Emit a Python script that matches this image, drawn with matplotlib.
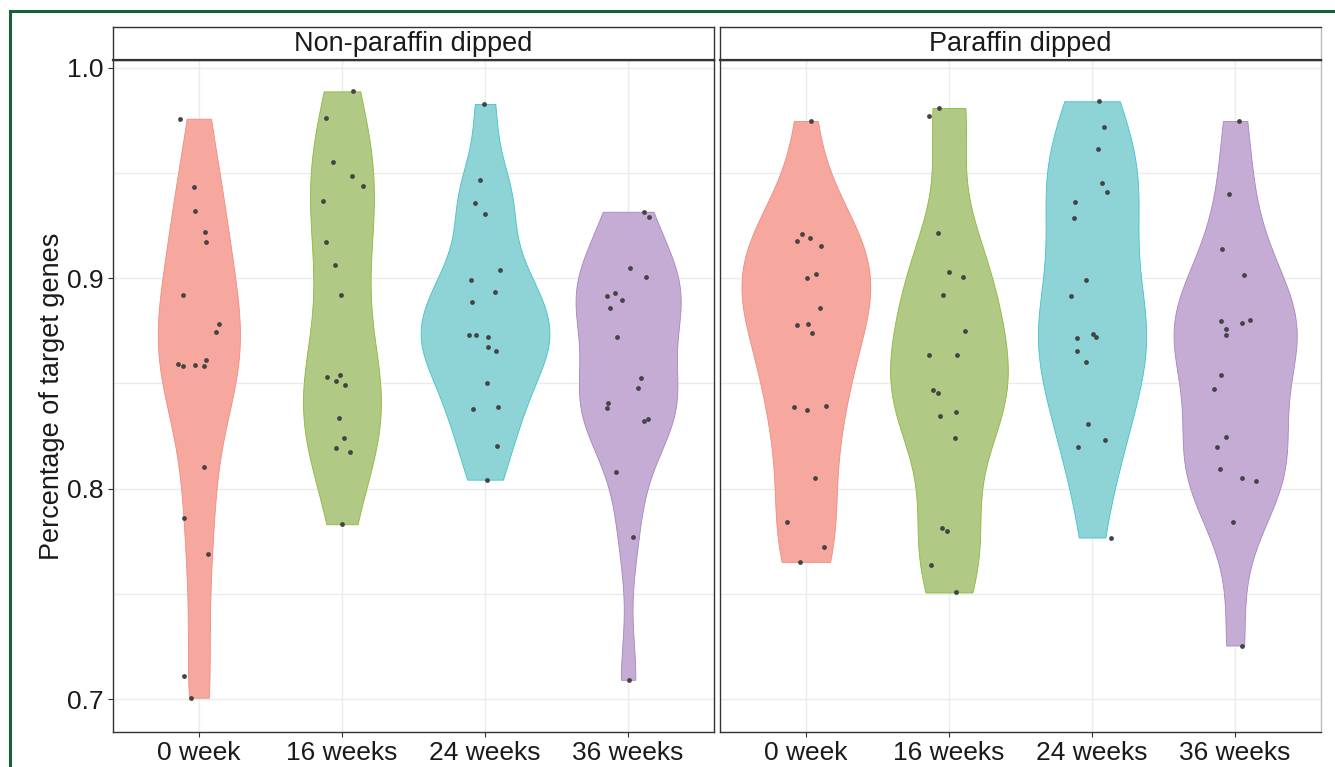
import numpy as np
import matplotlib.pyplot as plt
from matplotlib.patches import Rectangle

plt.rcParams['font.family'] = ['Liberation Sans', 'DejaVu Sans']

panels = ['Non-paraffin dipped', 'Paraffin dipped']
weeks = ['0 week', '16 weeks', '24 weeks', '36 weeks']

fill_colors = ['#F7A89E', '#B0C985', '#8ED4D7', '#C5ACD4']
edge_colors = ['#F28A80', '#8DB83A', '#3FC3C7', '#A784BE']

# non-paraffin dipped, point values and horizontal jitter (category units)
non_0wk_y = [0.9758, 0.9433, 0.9318, 0.9219, 0.9170, 0.8919, 0.8781, 0.8745, 0.8594,
             0.8581, 0.8590, 0.8582, 0.8610, 0.8103, 0.7863, 0.7689, 0.7110, 0.7007]
non_0wk_dx = [-0.135, -0.033, -0.028, 0.042, 0.053, -0.112, 0.140, 0.119, -0.149,
              -0.109, -0.028, 0.037, 0.049, 0.035, -0.107, 0.067, -0.102, -0.056]
non_16wk_y = [0.9888, 0.9760, 0.9554, 0.9487, 0.9438, 0.9367, 0.9174, 0.9064, 0.8919,
              0.8530, 0.8539, 0.8511, 0.8494, 0.8337, 0.8243, 0.8195, 0.8176, 0.7831]
non_16wk_dx = [0.079, -0.112, -0.060, 0.072, 0.144, -0.130, -0.114, -0.047, -0.005,
               -0.105, -0.012, -0.040, 0.023, -0.019, 0.016, -0.044, 0.058, 0.000]
non_24wk_y = [0.9828, 0.9468, 0.9356, 0.9305, 0.9041, 0.8994, 0.8933, 0.8886, 0.8728,
              0.8728, 0.8719, 0.8672, 0.8652, 0.8504, 0.8378, 0.8390, 0.8202, 0.8043]
non_24wk_dx = [-0.007, -0.035, -0.068, 0.000, 0.107, -0.100, 0.068, -0.091, -0.110,
               -0.065, 0.019, 0.023, 0.079, 0.016, -0.086, 0.093, 0.084, 0.016]
non_36wk_y = [0.9316, 0.9290, 0.9051, 0.9004, 0.8918, 0.8929, 0.8895, 0.8860, 0.8721,
              0.8526, 0.8478, 0.8408, 0.8382, 0.8322, 0.8331, 0.8079, 0.7772, 0.7092]
non_36wk_dx = [0.114, 0.147, 0.014, 0.124, -0.147, -0.091, -0.040, -0.124, -0.075,
               0.089, 0.070, -0.142, -0.149, 0.112, 0.140, -0.086, 0.035, 0.005]

# paraffin dipped
par_0wk_y = [0.9747, 0.9212, 0.9176, 0.9189, 0.9155, 0.9022, 0.9000, 0.8858, 0.8779,
             0.8781, 0.8742, 0.8388, 0.8375, 0.8395, 0.8051, 0.7841, 0.7723, 0.7652]
par_0wk_dx = [0.037, -0.028, -0.061, 0.026, 0.107, 0.070, 0.009, 0.098, -0.063,
              0.016, 0.044, -0.084, 0.007, 0.142, 0.065, -0.135, 0.128, -0.044]
par_16wk_y = [0.9809, 0.9772, 0.9213, 0.9030, 0.9007, 0.8921, 0.8747, 0.8633, 0.8633,
              0.8470, 0.8453, 0.8345, 0.8365, 0.8240, 0.7813, 0.7800, 0.7639, 0.7507]
par_16wk_dx = [-0.070, -0.140, -0.079, 0.000, 0.096, -0.044, 0.110, -0.138, 0.056,
               -0.114, -0.075, -0.065, 0.049, 0.044, -0.049, -0.016, -0.128, 0.049]
par_24wk_y = [0.9841, 0.9717, 0.9616, 0.9453, 0.9408, 0.9363, 0.9288, 0.8991, 0.8918,
              0.8717, 0.8736, 0.8719, 0.8652, 0.8603, 0.8309, 0.8200, 0.8232, 0.7768]
par_24wk_dx = [0.047, 0.082, 0.044, 0.068, 0.103, -0.119, -0.126, -0.042, -0.144,
               -0.105, 0.007, 0.028, -0.107, -0.042, -0.026, -0.098, 0.093, 0.131]
par_36wk_y = [0.9747, 0.9401, 0.9137, 0.9017, 0.8798, 0.8760, 0.8728, 0.8785, 0.8803,
              0.8539, 0.8472, 0.8247, 0.8199, 0.8096, 0.8051, 0.8036, 0.7841, 0.7255]
par_36wk_dx = [0.026, -0.040, -0.093, 0.065, -0.100, -0.063, -0.065, 0.049, 0.105,
               -0.100, -0.149, -0.061, -0.126, -0.105, 0.049, 0.149, -0.016, 0.049]

panel_data = [
    [(non_0wk_y, non_0wk_dx), (non_16wk_y, non_16wk_dx),
     (non_24wk_y, non_24wk_dx), (non_36wk_y, non_36wk_dx)],
    [(par_0wk_y, par_0wk_dx), (par_16wk_y, par_16wk_dx),
     (par_24wk_y, par_24wk_dx), (par_36wk_y, par_36wk_dx)],
]


def density(vals, n=512):
    # gaussian kde with R's bw.nrd0, trimmed to data range
    v = np.asarray(vals)
    iqr = np.subtract(*np.percentile(v, [75, 25]))
    bw = 0.9 * min(v.std(ddof=1), iqr / 1.34) * len(v) ** -0.2
    grid = np.linspace(v.min(), v.max(), n)
    d = np.exp(-0.5 * ((grid[:, None] - v[None, :]) / bw) ** 2).sum(1)
    d /= len(v) * bw * np.sqrt(2 * np.pi)
    return grid, d


W, H = 1335, 767
fig = plt.figure(figsize=(W / 100, H / 100), dpi=100)

# green outer frame (cropped on right/bottom)
fig.patches.append(Rectangle((10 / W, -0.1), 2.0, (767 - 11) / H + 0.1,
                             transform=fig.transFigure, fill=False,
                             edgecolor='#1D5E3C', linewidth=2.2))

panel_x = [(113, 714), (720, 1321)]
top, bottom, strip_top = 60, 732, 27
text_col = '#1A1A1A'

for p, (x0, x1) in enumerate(panel_x):
    ax = fig.add_axes([x0 / W, (H - bottom) / H, (x1 - x0) / W, (bottom - top) / H])
    ax.set_xlim(0.4, 4.6)
    ax.set_ylim(0.6844, 1.0037)
    ax.set_yticks([0.7, 0.8, 0.9, 1.0])
    ax.set_yticks([0.75, 0.85, 0.95], minor=True)
    ax.set_xticks(range(1, 5))
    ax.set_xticklabels(weeks)
    ax.grid(True, which='both', color='#EBEBEB', linewidth=1.0)
    ax.set_axisbelow(True)
    ax.tick_params(axis='both', which='major', labelsize=19, colors='#333333',
                   labelcolor=text_col, length=3.5, width=0.8, pad=3)
    ax.tick_params(axis='y', which='minor', length=0)
    for s in ax.spines.values():
        s.set_color('#333333')
        s.set_linewidth(1.0)
    if p == 0:
        ax.set_yticklabels(['0.7', '0.8', '0.9', '1.0'])
        ax.set_ylabel('Percentage of target genes', fontsize=19.5, color=text_col,
                      labelpad=2)
    else:
        ax.tick_params(axis='y', which='major', length=0, labelleft=False)
        ax.spines['right'].set_color('#BBBBBB')

    dens = [density(y) for y, _ in panel_data[p]]
    dmax = max(d.max() for _, d in dens)
    for i, ((grid, d), (y, dx)) in enumerate(zip(dens, panel_data[p])):
        c = i + 1
        hw = 0.45 * d / dmax
        ax.fill_betweenx(grid, c - hw, c + hw, facecolor=fill_colors[i],
                         edgecolor=edge_colors[i], linewidth=0.6, zorder=2)
        ax.scatter(c + np.asarray(dx), y, s=12, color='#444444', zorder=3,
                   linewidths=0)

    sax = fig.add_axes([x0 / W, (H - top) / H, (x1 - x0) / W, (top - strip_top) / H])
    sax.set_xticks([])
    sax.set_yticks([])
    for s in sax.spines.values():
        s.set_color('#333333')
        s.set_linewidth(1.0)
    sax.spines['bottom'].set_linewidth(1.6)
    if p == 1:
        sax.spines['right'].set_color('#BBBBBB')
    sax.text(0.5, 0.47, panels[p], ha='center', va='center', fontsize=19.5,
             color=text_col, transform=sax.transAxes)

fig.savefig('out.png', dpi=100)
